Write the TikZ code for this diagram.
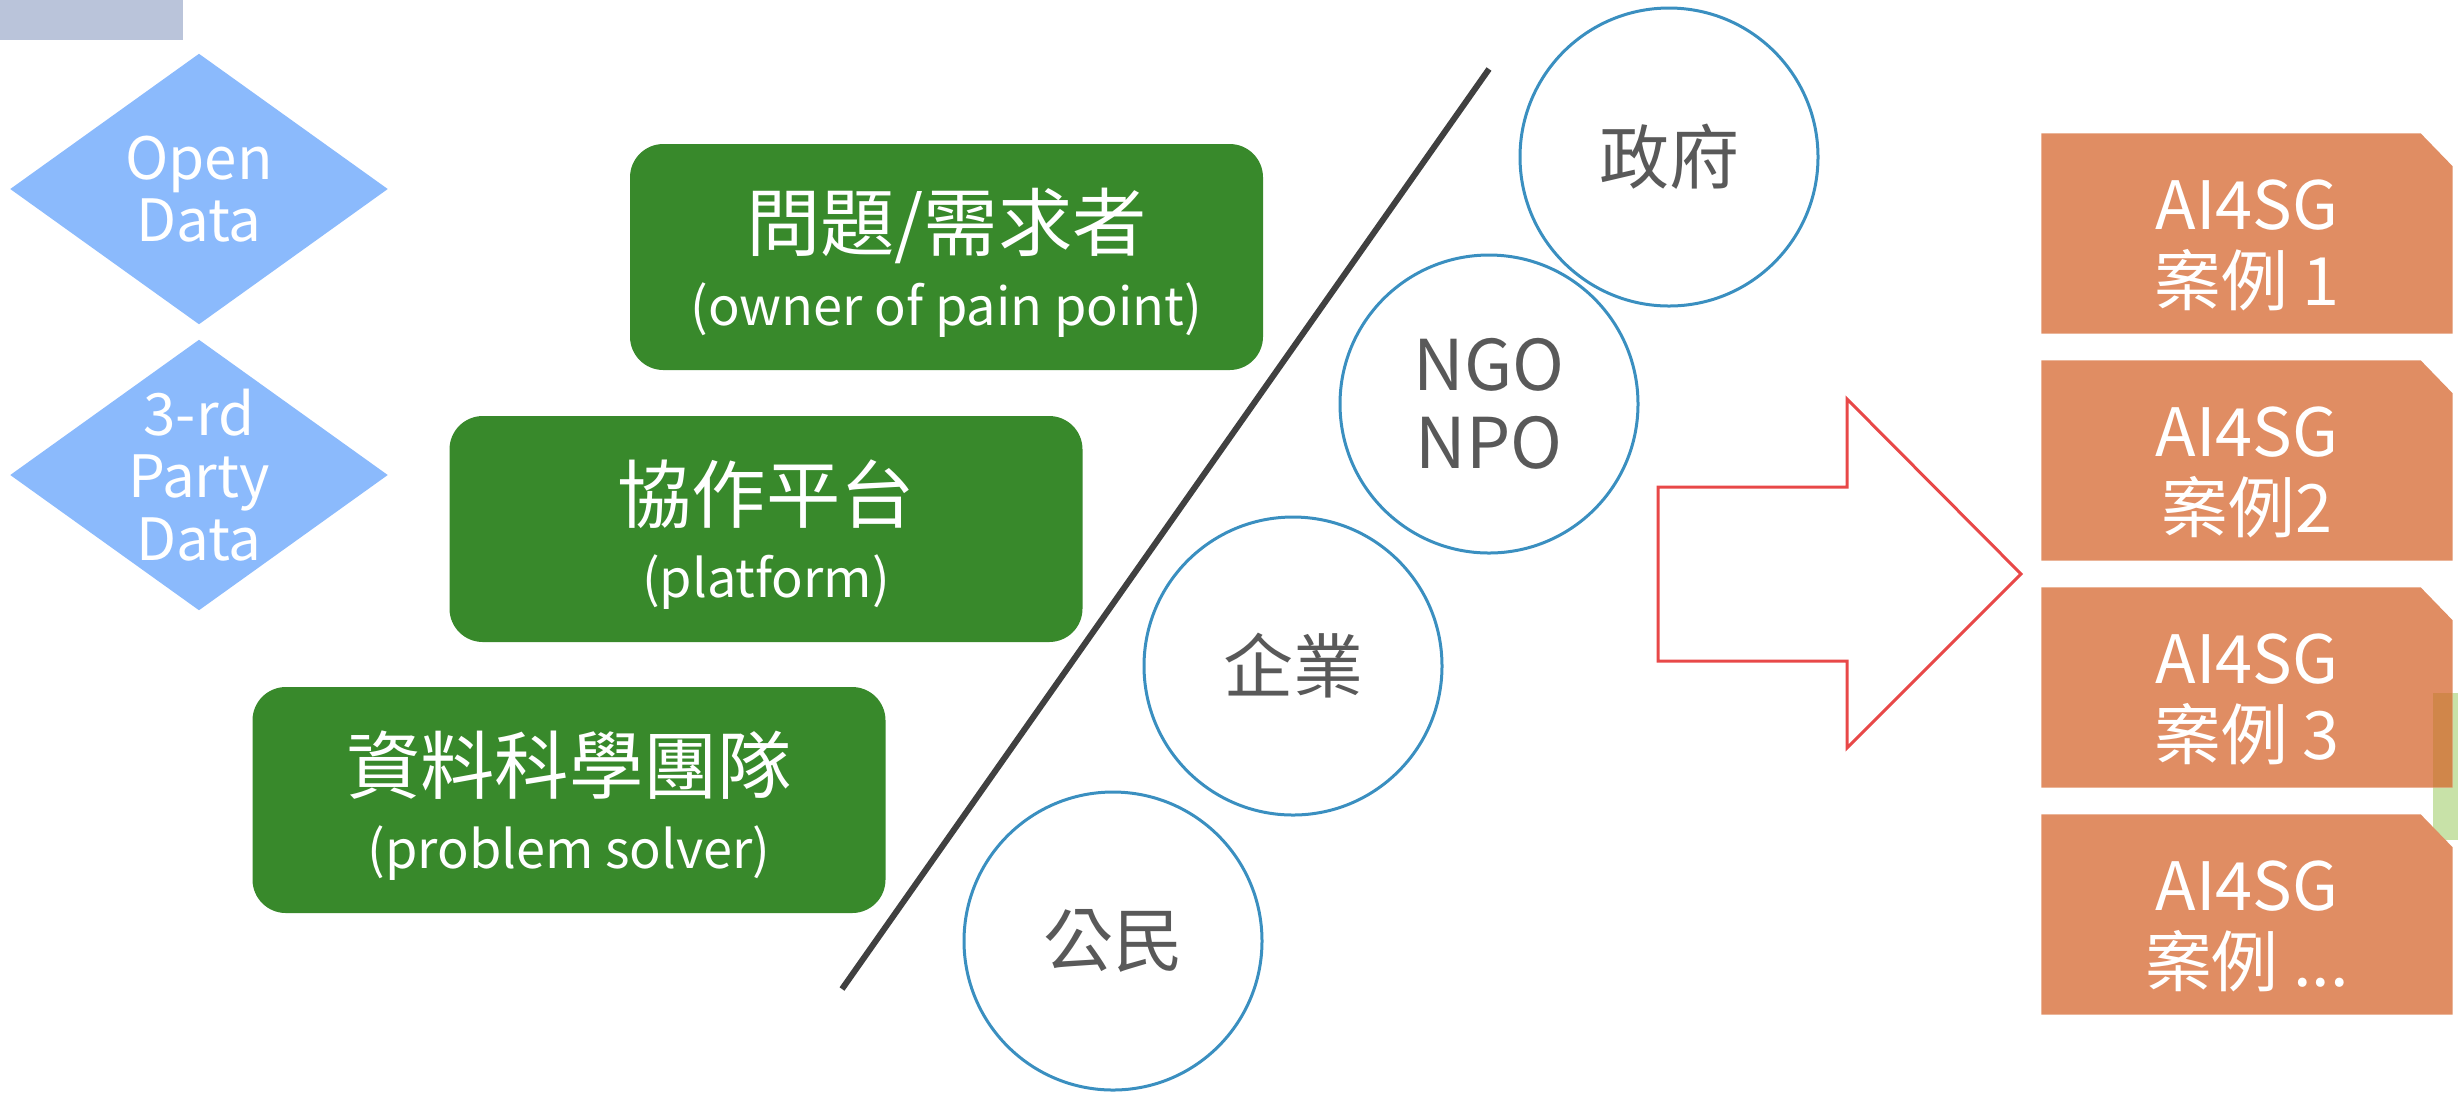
\documentclass[tikz,border=0pt]{standalone}
\usepackage{fontspec}
\setmainfont{Noto Sans CJK TC}
\usetikzlibrary{shapes.geometric}
\definecolor{datablue}{RGB}{139,186,252}
\definecolor{teamgreen}{RGB}{56,137,43}
\definecolor{caseorange}{RGB}{224,141,99}
\definecolor{ringblue}{RGB}{58,143,192}
\definecolor{arrowred}{RGB}{232,72,72}
\definecolor{slashgray}{RGB}{64,64,64}
\definecolor{tabgray}{RGB}{186,196,218}
\definecolor{tabgreen}{RGB}{200,226,168}
\definecolor{tabblend}{RGB}{208,134,74}
\newcommand{\mainline}[1]{{\fontsize{22.3}{22.5}\selectfont #1}}
\tikzset{
  datadiamond/.style={diamond,fill=datablue,inner sep=0pt,minimum width=113.4pt,minimum height=81.3pt},
  datatext/.style={text=white,align=center,font=\fontsize{17.5}{18.8}\selectfont},
  rolebox/.style={rectangle,rounded corners=10pt,fill=teamgreen,minimum width=189.9pt,minimum height=67.8pt},
  roletext/.style={text=white,align=center,font=\fontsize{15.7}{22.5}\selectfont},
  sectorring/.style={circle,draw=ringblue,line width=0.9pt,fill=white,minimum size=89.4pt,inner sep=0pt,text=black!65,align=center,font=\fontsize{21}{23.5}\selectfont},
  casebox/.style={rectangle,inner sep=0pt,minimum width=123pt,minimum height=59.7pt},
  casetext/.style={text=white,align=center,font=\fontsize{20}{22.6}\selectfont}
}
\begin{document}
\begin{tikzpicture}[x=0.3pt,y=-0.3pt]
\useasboundingbox (0,0) rectangle (2458,1095);
% Drawing cut-off bits at the edges
\fill[tabgray] (0,0) rectangle (183,40);
\fill[tabgreen] (2433,693) rectangle (2458,840);
% Drawing data sources
\node[datadiamond] (open) at (199,189) {};
\node[datatext] (opentext) at (open) {Open\\Data};
\node[datadiamond] (third) at (199,475) {};
\node[datatext] (thirdtext) at (third) {3-rd\\Party\\Data};
% Drawing roles
\node[rolebox] (owner) at (946.5,257) {};
\node[roletext] at ([yshift=-1.8pt]owner.center) {\mainline{問題/需求者}\\(owner of pain point)};
\node[rolebox] (platform) at (766,529) {};
\node[roletext] at ([yshift=-1.8pt]platform.center) {\mainline{協作平台}\\(platform)};
\node[rolebox] (solver) at (569,800) {};
\node[roletext] at ([yshift=-1.8pt]solver.center) {\mainline{資料科學團隊}\\(problem solver)};
% Drawing the slash
\coordinate (slashtop) at (1489,69);
\coordinate (slashbot) at (842,989);
\draw[slashgray,line width=1.8pt] (slashtop) -- (slashbot);
% Drawing sectors
\node[sectorring] (gov) at (1669,157) {政府};
\node[sectorring] (ngo) at (1489,404) {NGO\\NPO};
\node[sectorring] (firm) at (1293,666) {企業};
\node[sectorring] (citizen) at (1113,941) {公民};
% Drawing the big arrow
\draw[arrowred,line width=0.9pt] (1658,487) -- (1847,487) -- (1847,399) -- (2021,574) -- (1847,748) -- (1847,661) -- (1658,661) -- cycle;
% Drawing cases
\foreach \n/\y/\lbl in {1/233.5/{案例 1},2/460.5/{案例2},3/687.5/{案例 3},4/914.5/{案例 ...}} {
  \node[casebox] (case\n) at (2247,\y) {};
  \fill[caseorange] (case\n.south west) -- (case\n.north west) -- ([xshift=-9.6pt]case\n.north east)
    -- ([yshift=-9.9pt]case\n.north east) -- (case\n.south east) -- cycle;
  \node[casetext] at ([yshift=-3.6pt]case\n.center) {AI4SG\\\lbl};
}
\fill[tabblend] (2433,693) rectangle (2452,787);
\end{tikzpicture}
\end{document}
